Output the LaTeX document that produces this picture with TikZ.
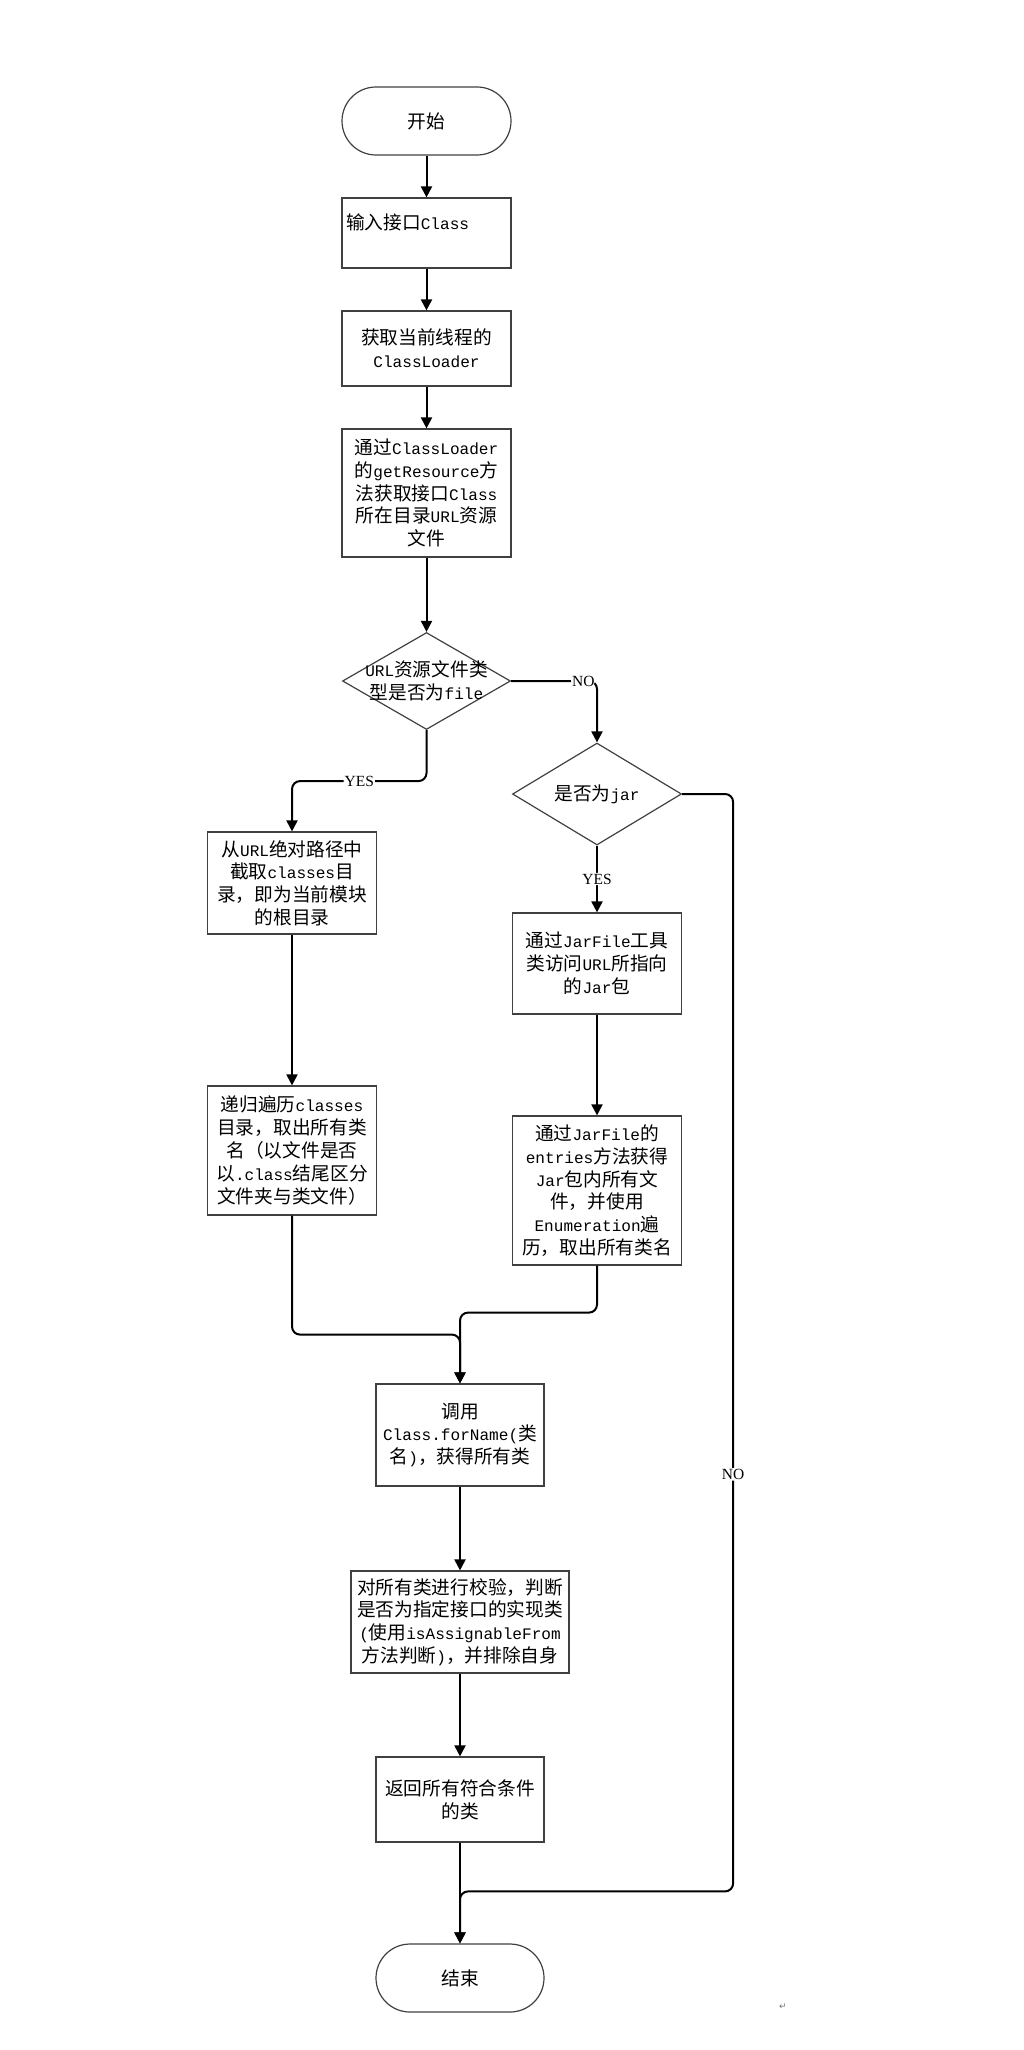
\documentclass[tikz,border=0pt]{standalone}
\usepackage{fontspec}
\setmainfont{Noto Sans CJK SC}
\newfontfamily\mono[Scale=0.86]{Liberation Mono}
\newfontfamily\labelfont{Liberation Serif}
\newfontfamily\symfont{DejaVu Sans}
\newcommand{\en}[1]{{\mono #1}}
\usepackage{tikz}
\usetikzlibrary{arrows.meta, positioning, shapes.geometric}

\begin{document}
\begin{tikzpicture}[
        x=1pt, y=1pt, node distance=100pt, on grid,
        >={Triangle[length=11pt,width=11pt]},
        every node/.style={font=\fontsize{18.7}{22.8}\selectfont},
        process/.style={draw=black!75, line width=1.2pt, minimum width=169pt, inner sep=3pt, align=center},
        terminal/.style={process, rounded corners=34pt, minimum height=68pt},
        decision/.style={diamond, draw=black!75, line width=1.2pt, inner sep=0pt},
        line/.style={->, line width=2pt, rounded corners=8pt},
        yesno/.style={fill=white, inner sep=1pt, font=\labelfont\fontsize{15.5}{17}\selectfont},
        ]
        \useasboundingbox (0,0) rectangle (1023,-2050);

        % main column
        \node[terminal] (start) at (426.5,-121) {开始};
        \node[process, minimum height=70pt, text width=161pt, inner xsep=4pt, align=left] (in) [below=112pt of start] {输入接口\en{Class}\\~};
        \node[process, minimum height=75pt] (cl) [below=115.5pt of in] {获取当前线程的\\\en{ClassLoader}};
        \node[process, minimum height=128pt] (res) [below=144.5pt of cl]
            {通过\en{ClassLoader}\\的\en{getResource}方\\法获取接口\en{Class}\\所在目录\en{URL}资源\\文件};
        \node[decision, minimum width=168pt, minimum height=97pt,
            label={[align=center]center:{\en{URL}资源文件类\\型是否为\en{file}}}] (isfile) [below=188pt of res] {};

        % file branch
        \node[process, minimum height=102pt] (cut) [below left=202pt and 134.5pt of isfile]
            {从\en{URL}绝对路径中\\截取\en{classes}目\\录，即为当前模块\\的根目录};
        \node[process, minimum height=129pt] (walk) [below=267.5pt of cut]
            {递归遍历\en{classes}\\目录，取出所有类\\名（以文件是否\\以\en{.class}结尾区分\\文件夹与类文件）};

        % jar branch
        \node[decision, minimum width=169pt, minimum height=102pt,
            label={center:是否为\en{jar}}] (isjar) [below right=113pt and 170.5pt of isfile] {};
        \node[process, minimum height=101pt] (jtool) [below=169.5pt of isjar]
            {通过\en{JarFile}工具\\类访问\en{URL}所指向\\的\en{Jar}包};
        \node[process, minimum height=149pt] (jent) [below=227pt of jtool]
            {通过\en{JarFile}的\\\en{entries}方法获得\\\en{Jar}包内所有文\\件，并使用\\\en{Enumeration}遍\\历，取出所有类名};

        % common tail
        \node[process, minimum width=168pt, minimum height=102pt] (forname) [below right=284.5pt and 168pt of walk]
            {调用\\\en{Class.forName(}类\\名\en{)}，获得所有类};
        \node[process, minimum width=218pt, minimum height=102pt] (check) [below=187pt of forname]
            {对所有类进行校验，判断\\是否为指定接口的实现类\\\en{(}使用\en{isAssignableFrom}\\方法判断\en{)}，并排除自身};
        \node[process, minimum width=168pt, minimum height=85pt] (ret) [below=177.5pt of check] {返回所有符合条件\\的类};
        \node[terminal, minimum width=168pt] (stop) [below=178.5pt of ret] {结束};

        \node[text=black!55, font=\symfont\fontsize{9}{10}\selectfont] (mark) at (783,-2007) {↵};

        \draw[line] (start) -- (in);
        \draw[line] (in) -- (cl);
        \draw[line] (cl) -- (res);
        \draw[line] (res) -- (isfile);
        \draw[line] (isfile.south) -- ++(0,-51) -| node[pos=0.25, yesno] {YES} (cut.north);
        \draw[line] (isfile.east) -| node[pos=0.42, yesno] {NO} (isjar.north);
        \draw[line] (cut.south) -- (walk.north);
        \draw[line] (isjar) -- node[yesno] {YES} (jtool);
        \draw[line] (jtool.south) -- (jent.north);
        \draw[line] (walk.south) -- ++(0,-119) -| (forname.north);
        \draw[line] (jent.south) -- ++(0,-47) -| (forname.north);
        \draw[line] (forname) -- (check);
        \draw[line] (check) -- (ret);
        \draw[line] (ret) -- (stop);
        \draw[line] (isjar.east) -- ++(51,0) |- node[pos=0.31, yesno] {NO} ([yshift=52pt]stop.north) -- (stop.north);
      \end{tikzpicture}
\end{document}
